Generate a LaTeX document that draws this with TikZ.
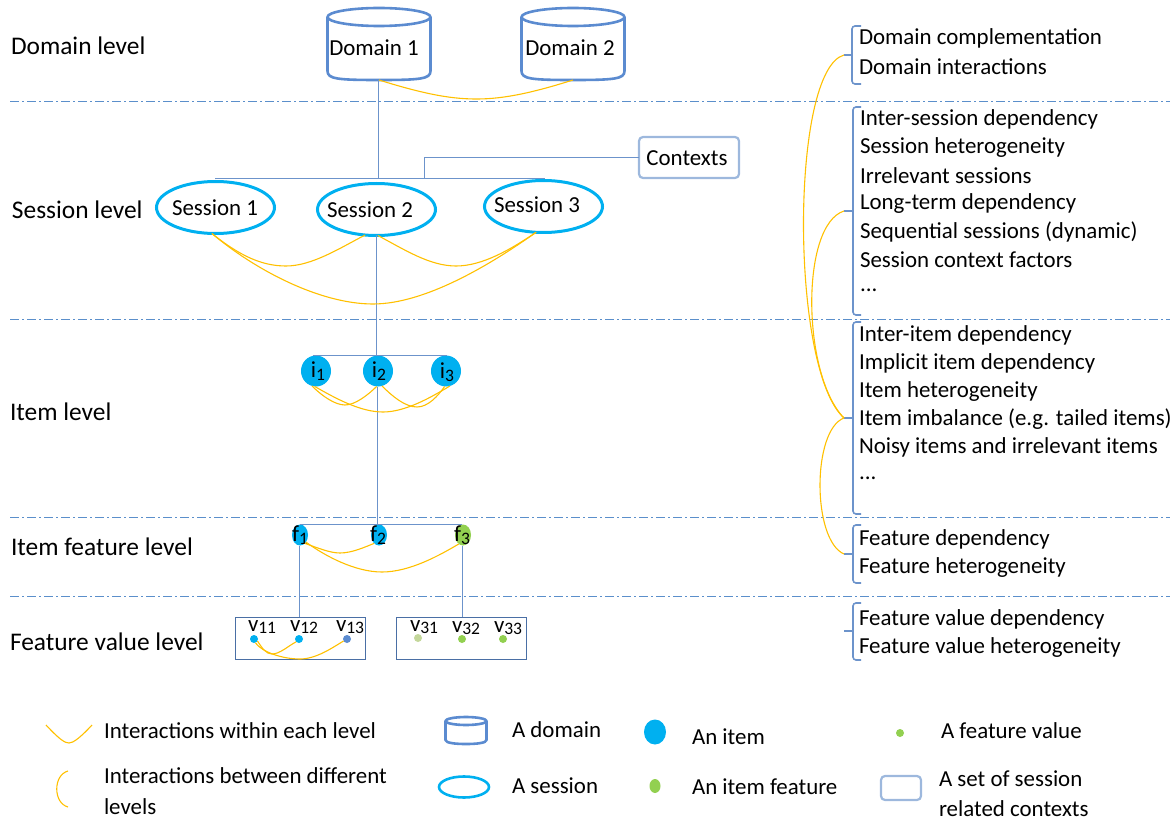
\documentclass[tikz,border=0pt]{standalone}
\usepackage{fontspec}
\setmainfont{Carlito}
\usetikzlibrary{shapes.geometric}
\definecolor{linkblue}{HTML}{6C93CB}
\definecolor{sepblue}{HTML}{5B8FCB}
\definecolor{dombl}{HTML}{5B8BD0}
\definecolor{sesbl}{HTML}{00B0F0}
\definecolor{ctxbl}{HTML}{9DB8DD}
\definecolor{ylw}{HTML}{FFC000}
\definecolor{grn}{HTML}{92D050}
\definecolor{palegrn}{HTML}{C4D79B}
\definecolor{boxbl}{HTML}{4A6FA5}
\tikzset{
  x=1pt,y=-1pt,
  every node/.style={inner sep=0pt,outer sep=0pt,text=black,font=\fontsize{22.9}{26}\selectfont},
  lab/.style={anchor=west},
  biglab/.style={anchor=west,font=\fontsize{25.4}{28}\selectfont},
  sep/.style={sepblue,line width=1pt,dash pattern=on 9pt off 3pt on 2pt off 3pt},
  link/.style={linkblue,line width=1pt},
  inter/.style={ylw,line width=1.1pt},
  dombody/.style={dombl,line width=2.6pt,line join=round},
  sess/.style={ellipse,draw=sesbl,line width=3pt},
  dotnode/.style={circle,fill=#1,minimum size=8pt},
  bigdot/.style={ellipse,fill=#1},
  bracket/.style={linkblue,line width=1.6pt,rounded corners=3pt},
  valbox/.style={draw=boxbl,line width=0.9pt},
  ctxbox/.style={draw=ctxbl,line width=2.2pt,rounded corners=4pt},
}
\newcommand\txt[4]{\node[lab] (#1) at (#2,#3) {#4};}
\newcommand\lvl[4]{\node[biglab] (#1) at (#2,#3) {#4};}
\newcommand\cyl[6]{%
  \node[minimum width=#4pt,minimum height=#5pt] (#1) at (#2,#3) {};
  \draw[dombody] ([yshift=-#6pt]#1.north west)
    -- ([yshift=#6pt]#1.south west)
    .. controls ([yshift=1pt]#1.south west) and ([xshift=10pt]#1.south west) .. (#1.south)
    .. controls ([xshift=-10pt]#1.south east) and ([yshift=1pt]#1.south east) .. ([yshift=#6pt]#1.south east)
    -- ([yshift=-#6pt]#1.north east);
  \draw[dombody] ([yshift=-#6pt]#1.north) ellipse [x radius=#4/2,y radius=#6];
}
\newcommand\sbs[1]{\raisebox{-2.5pt}{\fontsize{17.5}{17.5}\selectfont #1}}
\begin{document}
\begin{tikzpicture}
\useasboundingbox (0,0) rectangle (1176,821);
% level separators
\foreach \yy in {102,319,517,596} \draw[sep] (10,\yy) -- (1170,\yy);
% level labels
\lvl{ldom}{11}{46}{Domain level}
\lvl{lses}{12}{210}{Session level}
\lvl{litm}{10}{412}{Item level}
\lvl{lfea}{11}{547}{Item feature level}
\lvl{lval}{10}{642}{Feature value level}
% domains
\cyl{d1}{379}{44}{103}{72}{9}
\cyl{d2}{573}{44}{103}{72}{9}
\node (d1t) at (374,48) {Domain 1};
\node (d2t) at (570,48) {Domain 2};
% contexts
\node[ctxbox,minimum width=100pt,minimum height=41pt] (ctx) at (689,157.5) {};
\node (ctxt) at (687,158.5) {Contexts};
% sessions
\node[sess,minimum width=118pt,minimum height=52pt] (s1) at (215.5,207.5) {};
\node[sess,minimum width=118pt,minimum height=52pt] (s2) at (376.5,209.5) {};
\node[sess,minimum width=118pt,minimum height=52pt] (s3) at (543.5,206.5) {};
\node (s1t) at (215,208) {Session 1};
\node (s2t) at (370,210) {Session 2};
\node (s3t) at (537,205) {Session 3};
% items
\node[bigdot=sesbl,minimum width=30pt,minimum height=31pt] (i1) at (316,371) {};
\node[bigdot=sesbl,minimum width=30pt,minimum height=31pt] (i2) at (378,371) {};
\node[bigdot=sesbl,minimum width=30pt,minimum height=31pt] (i3) at (446,371) {};
\node (i1t) at (318,371) {i\sbs{1}};
\node (i2t) at (379,371) {i\sbs{2}};
\node (i3t) at (447,372) {i\sbs{3}};
% features
\node[bigdot=sesbl,minimum width=16pt,minimum height=21pt] (f1) at (300,535) {};
\node[bigdot=sesbl,minimum width=16pt,minimum height=21pt] (f2) at (379,535) {};
\node[bigdot=grn,minimum width=16pt,minimum height=21pt] (f3) at (463,535) {};
\node (f1t) at (300,535) {f\sbs{1}};
\node (f2t) at (378,535) {f\sbs{2}};
\node (f3t) at (462,535) {f\sbs{3}};
% value boxes
\node[valbox,minimum width=130pt,minimum height=42pt] (vb1) at (300,638) {};
\node[valbox,minimum width=130pt,minimum height=42pt] (vb2) at (461,638) {};
\node[dotnode=sesbl] (v11) at (254,639) {};
\node[dotnode=sesbl] (v12) at (299,639) {};
\node[dotnode=dombl] (v13) at (347,639) {};
\node[dotnode=palegrn] (v31) at (418,638) {};
\node[dotnode=grn] (v32) at (462,639) {};
\node[dotnode=grn] (v33) at (503,639) {};
\txt{v11t}{248}{627}{v\sbs{11}}
\txt{v12t}{290}{627}{v\sbs{12}}
\txt{v13t}{336}{627}{v\sbs{13}}
\txt{v31t}{410}{627}{v\sbs{31}}
\txt{v32t}{452}{628}{v\sbs{32}}
\txt{v33t}{494}{628}{v\sbs{33}}
% tree connectors
\coordinate (sbL) at (215,179);
\coordinate (sbR) at (545,179);
\coordinate (sbC) at (424,179);
\coordinate (ibL) at (313,355);
\coordinate (ibR) at (447,355);
\coordinate (fbL) at (300,524);
\coordinate (fbR) at (462,524);
\draw[link] (d1.south) ++(-1,0) -- (378,179);
\draw[link] (sbL) -- (sbR);
\draw[link] (ctx.west) -| (sbC);
\draw[link] (s2.south) -- (s2.south |- ibL);
\draw[link] (ibL) -- (ibR);
\draw[link] (i2.south) ++(-1,0) -- (377,524);
\draw[link] (fbL) -- (fbR);
\draw[link] (f1.south) ++(-1,0) -- (299,617);
\draw[link] (f3.south) ++(-1,0) -- (462,617);
% interactions within levels
\draw[inter] (d1.south) .. controls (430,96) and (455,99) .. (477,99) .. controls (505,99) and (535,92) .. (d2.south);
\draw[inter] (s1.-98) .. controls (240,256) and (262,266) .. (286,266) .. controls (312,266) and (340,248) .. (s2.-114);
\draw[inter] (s2.-87) .. controls (405,250) and (430,266) .. (456,266) .. controls (482,266) and (510,250) .. (s3.-106);
\draw[inter] (s1.-98) .. controls (255,270) and (320,304) .. (373,304) .. controls (425,304) and (490,265) .. (s3.-106);
\draw[inter] (i1.-105) .. controls (322,396) and (335,405) .. (345,405) .. controls (355,405) and (368,395) .. (i2.-95);
\draw[inter] (i1.-95) .. controls (335,398) and (360,412) .. (383,412) .. controls (405,412) and (430,398) .. (i3.-75);
\draw[inter] (i2.-75) .. controls (392,396) and (405,407) .. (417,407) .. controls (428,407) and (438,396) .. (i3.-95);
\draw[inter] (f1.-60) .. controls (318,548) and (330,553) .. (340,553) .. controls (352,553) and (365,547) .. (f2.-120);
\draw[inter] (f1.-50) .. controls (325,556) and (355,572) .. (382,572) .. controls (410,572) and (440,555) .. (f3.-115);
\draw[inter] (v11.-30) .. controls (262,648) and (266,654) .. (272,654) .. controls (280,654) and (288,646) .. (v12.-135);
\draw[inter] (v11.-70) .. controls (262,652) and (282,659) .. (300,659) .. controls (316,659) and (332,648) .. (v13.-150);
% right column
\txt{r1}{859}{38.5}{Domain complementation}
\txt{r2}{859}{66.5}{Domain interactions}
\txt{r3}{860}{119.5}{Inter-session dependency}
\txt{r4}{860}{147.5}{Session heterogeneity}
\txt{r5}{860}{175.5}{Irrelevant sessions}
\txt{r6}{860}{203.5}{Long-term dependency}
\txt{r7}{860}{231.5}{Sequential sessions (dynamic)}
\txt{r8}{860}{259.5}{Session context factors}
\txt{r9}{860}{290}{...}
\txt{r10}{859}{335.5}{Inter-item dependency}
\txt{r11}{859}{363.5}{Implicit item dependency}
\txt{r12}{859}{391.5}{Item heterogeneity}
\txt{r13}{859}{419.5}{Item imbalance (e.g. tailed items)}
\txt{r14}{859}{447.5}{Noisy items and irrelevant items}
\txt{r15}{859}{478}{...}
\txt{r16}{859}{539.5}{Feature dependency}
\txt{r17}{859}{567.5}{Feature heterogeneity}
\txt{r18}{859}{619.5}{Feature value dependency}
\txt{r19}{859}{647.5}{Feature value heterogeneity}
% brackets
\draw[bracket] (861,26) -- (852,26) -- (852,84) -- (861,84);
\draw[bracket] (861,107) -- (853,107) -- (853,315) -- (861,315);
\draw[bracket] (861,322) -- (853,322) -- (853,514) -- (861,514);
\draw[bracket] (861,525) -- (853,525) -- (853,583) -- (861,583);
\draw[bracket] (861,603) -- (853,603) -- (853,660) -- (861,660);
\coordinate (bk1) at (844,55);
\coordinate (bk2) at (844,211);
\coordinate (bk3) at (844,418);
\coordinate (bk4) at (844,554);
\coordinate (bk5) at (844,631);
\draw[bracket] (bk1) -- (852,55);
\draw[bracket] (bk2) -- (853,211);
\draw[bracket] (bk3) -- (853,418);
\draw[bracket] (bk4) -- (853,554);
\draw[bracket] (bk5) -- (853,631);
\draw[inter] (bk1) .. controls (790,70) and (790,370) .. (bk3);
\draw[inter] (bk2) .. controls (800,225) and (802,375) .. (bk3);
\draw[inter] (bk3) .. controls (812,430) and (812,540) .. (bk4);
% legend
\coordinate (lgA) at (46,725);
\coordinate (lgB) at (92,725);
\draw[inter] (lgA) .. controls (60,740) and (65,743) .. (69,743) .. controls (73,743) and (80,738) .. (lgB);
\coordinate (lgC) at (68,771);
\coordinate (lgD) at (68,807);
\draw[inter] (lgC) .. controls (53,775) and (53,803) .. (lgD);
\txt{t1}{104}{730.5}{Interactions within each level}
\txt{t2}{104}{775.5}{Interactions between different}
\txt{t3}{104}{807}{levels}
\cyl{lcyl}{466}{730.5}{41}{27}{4}
\txt{t4}{512}{729.5}{A domain}
\node[sess,minimum width=50pt,minimum height=21pt,line width=2.6pt] (lses2) at (464,787) {};
\txt{t5}{512}{785.5}{A session}
\node[bigdot=sesbl,minimum width=22pt,minimum height=25pt] (litem) at (655,732) {};
\txt{t6}{692}{736.5}{An item}
\node[bigdot=grn,minimum width=11pt,minimum height=14pt] (lfeat) at (655,786) {};
\txt{t7}{692}{786.5}{An item feature}
\node[dotnode=grn] (lval2) at (900,733) {};
\txt{t8}{941}{730.5}{A feature value}
\node[ctxbox,minimum width=40pt,minimum height=24pt] (lctx) at (901,788) {};
\txt{t9}{939}{778.5}{A set of session}
\txt{t10}{939}{808.5}{related contexts}
\end{tikzpicture}
\end{document}
